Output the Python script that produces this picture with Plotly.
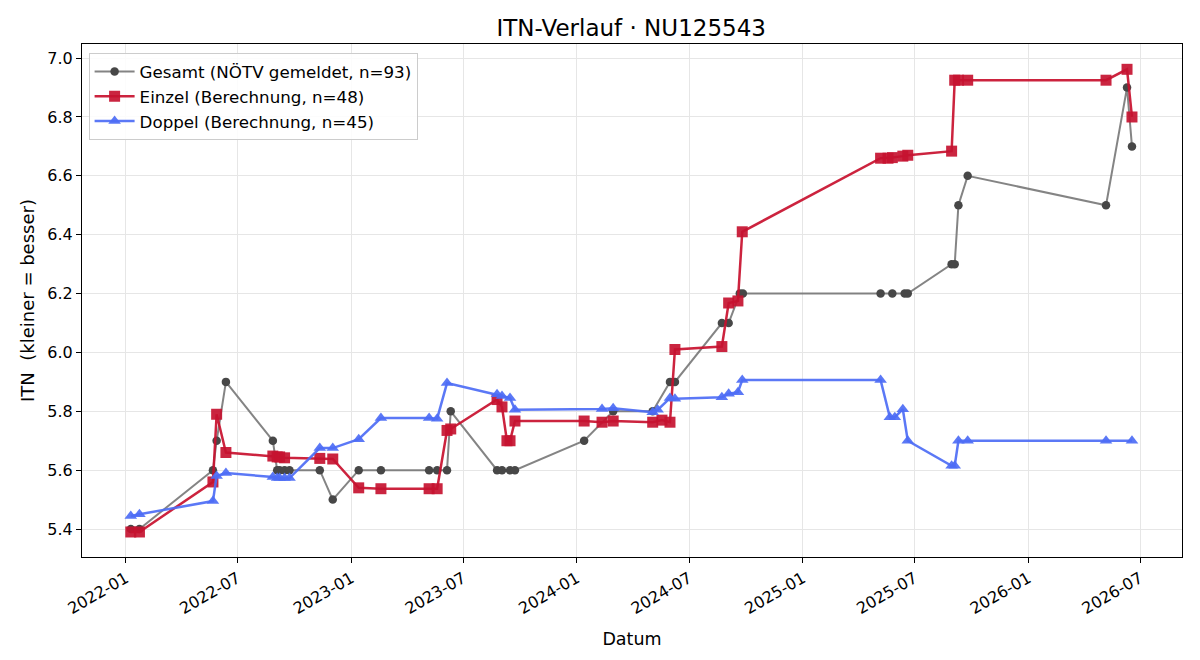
import plotly.graph_objects as go

gesamt_dates = ["2022-01-09","2022-01-23","2022-05-22","2022-05-28","2022-06-12","2022-08-27","2022-09-03",
                "2022-09-07","2022-09-15","2022-09-23","2022-11-11","2022-12-02","2023-01-13","2023-02-18",
                "2023-05-07","2023-05-20","2023-06-05","2023-06-11","2023-08-25","2023-09-02","2023-09-15",
                "2023-09-23","2024-01-13","2024-02-29","2024-05-03","2024-05-31","2024-06-08","2024-08-23",
                "2024-09-03","2024-09-21","2024-09-26","2025-05-07","2025-05-26","2025-06-15","2025-06-20",
                "2025-08-30","2025-09-04","2025-09-10","2025-09-25","2026-05-07","2026-06-10","2026-06-18"]
gesamt_vals = [5.4,5.4,5.6,5.7,5.9,5.7,5.6,
               5.6,5.6,5.6,5.6,5.5,5.6,5.6,
               5.6,5.6,5.6,5.8,5.6,5.6,5.6,
               5.6,5.7,5.8,5.8,5.9,5.9,6.1,
               6.1,6.2,6.2,6.2,6.2,6.2,6.2,
               6.3,6.3,6.5,6.6,6.5,6.9,6.7]

einzel_dates = ["2022-01-09","2022-01-23","2022-05-22","2022-05-28","2022-06-12","2022-08-27","2022-09-03",
                "2022-09-07","2022-09-15","2022-11-11","2022-12-02","2023-01-13","2023-02-18","2023-05-07",
                "2023-05-20","2023-06-05","2023-06-11","2023-08-25","2023-09-02","2023-09-10","2023-09-15",
                "2023-09-23","2024-01-13","2024-02-11","2024-02-29","2024-05-03","2024-05-18","2024-05-31",
                "2024-06-08","2024-08-23","2024-09-03","2024-09-18","2024-09-25","2025-05-07","2025-05-19",
                "2025-05-26","2025-06-12","2025-06-20","2025-08-30","2025-09-04","2025-09-10","2025-09-25",
                "2026-05-07","2026-06-10","2026-06-18"]
einzel_vals = [5.39,5.39,5.56,5.79,5.66,5.648,5.645,
               5.645,5.642,5.64,5.638,5.54,5.537,5.537,
               5.537,5.735,5.74,5.84,5.815,5.70,5.70,
               5.767,5.767,5.763,5.767,5.763,5.77,5.763,
               6.01,6.02,6.168,6.175,6.41,6.66,6.66,
               6.662,6.667,6.67,6.684,6.925,6.925,6.925,
               6.925,6.962,6.8]

doppel_dates = ["2022-01-09","2022-01-23","2022-05-22","2022-05-28","2022-06-12","2022-08-27","2022-09-03",
                "2022-09-07","2022-09-15","2022-09-23","2022-11-11","2022-12-02","2023-01-13","2023-02-18",
                "2023-05-07","2023-05-20","2023-06-05","2023-08-25","2023-09-02","2023-09-15","2023-09-23",
                "2024-02-11","2024-02-29","2024-05-03","2024-05-11","2024-05-31","2024-06-08","2024-08-23",
                "2024-09-03","2024-09-18","2024-09-25","2025-05-07","2025-05-22","2025-05-30","2025-06-12",
                "2025-06-20","2025-08-30","2025-09-04","2025-09-10","2025-09-25","2026-05-07","2026-06-18"]
doppel_vals = [5.444,5.45,5.495,5.58,5.59,5.577,5.573,
               5.573,5.573,5.573,5.675,5.675,5.705,5.777,
               5.777,5.775,5.896,5.858,5.852,5.845,5.805,
               5.808,5.81,5.797,5.805,5.845,5.843,5.848,
               5.86,5.865,5.906,5.906,5.78,5.78,5.807,
               5.70,5.615,5.615,5.70,5.70,5.70,5.70]

FONT = "DejaVu Sans"

fig = go.Figure()
fig.add_trace(go.Scatter(
    x=gesamt_dates, y=gesamt_vals, mode="lines+markers",
    name="Gesamt (NÖTV gemeldet, n=93)",
    line=dict(color="rgba(110,110,110,0.85)", width=2),
    marker=dict(symbol="circle", size=8.5, color="#474747"),
))
fig.add_trace(go.Scatter(
    x=einzel_dates, y=einzel_vals, mode="lines+markers",
    name="Einzel (Berechnung, n=48)",
    line=dict(color="rgba(200,16,46,0.92)", width=2.5),
    marker=dict(symbol="square", size=11, color="rgba(198,18,48,0.92)"),
))
fig.add_trace(go.Scatter(
    x=doppel_dates, y=doppel_vals, mode="lines+markers",
    name="Doppel (Berechnung, n=45)",
    line=dict(color="rgba(77,108,245,0.92)", width=2.5),
    marker=dict(symbol="triangle-up", size=11, color="rgba(77,108,245,0.92)"),
))

fig.update_layout(
    width=1200, height=660,
    margin=dict(l=82, r=18, t=44, b=103),
    paper_bgcolor="white", plot_bgcolor="white",
    font=dict(family=FONT, size=16, color="black"),
    title=dict(text="ITN-Verlauf · NU125543", x=0.526, xanchor="center", y=0.958, yanchor="middle",
               font=dict(family=FONT, size=23, color="black")),
    legend=dict(x=0.006, y=0.982, xanchor="left", yanchor="top",
                bgcolor="rgba(255,255,255,0.85)", bordercolor="#cccccc", borderwidth=1,
                font=dict(family=FONT, size=16.7), tracegroupgap=0, itemwidth=40),
    showlegend=True,
)
fig.update_xaxes(
    type="date", range=["2021-10-22", "2026-09-07"],
    tick0="2022-01-01", dtick="M6", tickformat="%Y-%m", tickangle=-30,
    ticks="outside", ticklen=5, tickcolor="black",
    showline=True, linecolor="black", linewidth=1, mirror=True,
    showgrid=True, gridcolor="#e6e6e6", gridwidth=1, zeroline=False,
    title=dict(text="Datum", font=dict(family=FONT, size=17.5)),
    tickfont=dict(family=FONT, size=16),
)
fig.update_yaxes(
    range=[5.305, 7.048], tick0=5.4, dtick=0.2, tickformat=".1f",
    ticks="outside", ticklen=5, tickcolor="black",
    showline=True, linecolor="black", linewidth=1, mirror=True,
    showgrid=True, gridcolor="#e6e6e6", gridwidth=1, zeroline=False,
    title=dict(text="ITN\u00a0 (kleiner = besser)", font=dict(family=FONT, size=18), standoff=8),
    tickfont=dict(family=FONT, size=16),
)

fig.write_html("out.html")
